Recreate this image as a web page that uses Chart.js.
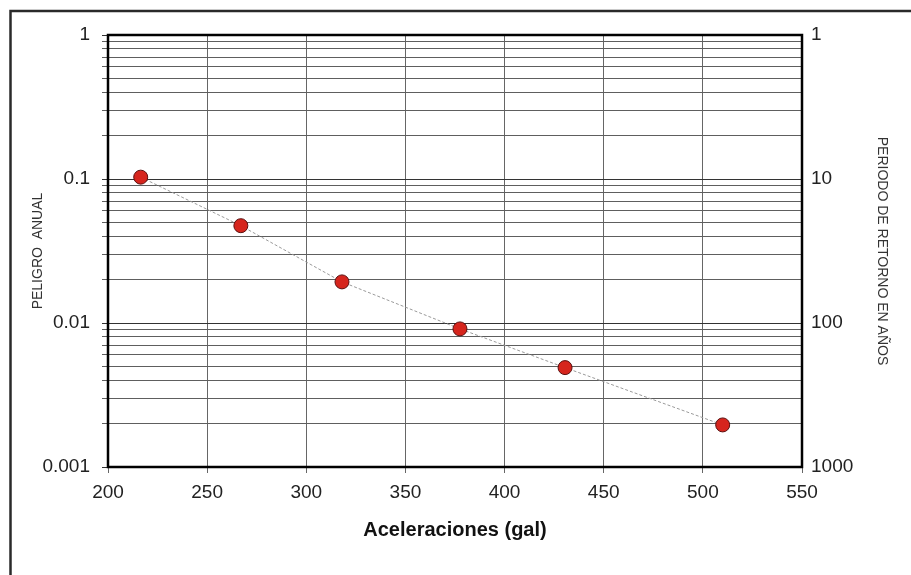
<!DOCTYPE html>
<html>
<head>
<meta charset="utf-8">
<script src="https://cdn.jsdelivr.net/npm/chart.js@4"></script>
<style>
  html, body { margin: 0; padding: 0; background: #fff; }
  #wrap { width: 911px; height: 575px; }
</style>
</head>
<body>
<div id="wrap"><canvas id="myChart" width="911" height="575"></canvas></div>
<script>
// acceleration (gal) vs annual hazard
const aceleraciones = [216.5, 267, 318, 377.5, 430.5, 510];
const peligro = [0.103, 0.0474, 0.0193, 0.0091, 0.0049, 0.00196];

// decades of the log axes and their labels (left: hazard, right: return period)
const decadas = [0.001, 0.01, 0.1, 1];
const peligroLabels = ['0.001', '0.01', '0.1', '1'];
const periodoLabels = ['1000', '100', '10', '1'];

// grid lines at 1..9 of every decade
const lineasY = [];
for (let d = 0; d < decadas.length - 1; d++) {
  for (let m = 1; m <= 9; m++) lineasY.push(+(m * decadas[d]).toPrecision(3));
}
lineasY.push(decadas[decadas.length - 1]);

function indiceDecada(v) {
  return decadas.findIndex(d => Math.abs(v - d) / d < 1e-6);
}

function etiqueta(v, labels) {
  const i = indiceDecada(v);
  return i >= 0 ? labels[i] : '';
}

Chart.defaults.font.family = "'Liberation Sans', Arial, sans-serif";
Chart.defaults.color = '#222';

// outer frame + black box around the plot area
const marcos = {
  id: 'marcos',
  beforeDatasetsDraw(chart) {
    const {ctx, chartArea: a} = chart;
    ctx.save();
    ctx.strokeStyle = '#000';
    ctx.lineWidth = 2.5;
    ctx.strokeRect(a.left, a.top, a.right - a.left, a.bottom - a.top);
    ctx.strokeStyle = '#2a2a2a';
    ctx.strokeRect(10.5, 11, 1000, 1000);
    ctx.restore();
  }
};

const ctx = document.getElementById('myChart');

new Chart(ctx, {
  type: 'scatter',
  data: {
    datasets: [{
      data: aceleraciones.map((x, i) => ({x: x, y: peligro[i]})),
      showLine: true,
      borderColor: '#9a9a9a',
      borderWidth: 1,
      borderDash: [3, 2],
      pointRadius: 7,
      pointBackgroundColor: '#d6251d',
      pointBorderColor: '#5a0f0f',
      pointBorderWidth: 1,
      yAxisID: 'y'
    }]
  },
  options: {
    responsive: false,
    animation: false,
    layout: { padding: { left: 30, right: 21, top: 35, bottom: 33 } },
    plugins: {
      legend: { display: false },
      tooltip: { enabled: false }
    },
    scales: {
      x: {
        type: 'linear',
        min: 200,
        max: 550,
        ticks: { stepSize: 50, padding: 8, maxRotation: 0, font: { size: 19 } },
        grid: { color: '#666', tickLength: 6 },
        border: { display: false },
        afterFit: s => { s.height = 75; },
        title: {
          display: true,
          text: 'Aceleraciones (gal)',
          color: '#111',
          padding: 0,
          font: { size: 20, weight: 'bold' }
        }
      },
      y: {
        type: 'logarithmic',
        position: 'left',
        min: 0.001,
        max: 1,
        afterBuildTicks: s => { s.ticks = lineasY.map(v => ({value: v})); },
        afterFit: s => { s.width = 78; },
        ticks: {
          autoSkip: false,
          padding: 12,
          font: { size: 19 },
          callback: v => etiqueta(v, peligroLabels)
        },
        grid: {
          color: c => (c.tick && indiceDecada(c.tick.value) >= 0) ? '#333' : '#5e5e5e',
          tickLength: 6
        },
        border: { display: false },
        title: {
          display: true,
          text: 'PELIGRO  ANUAL',
          color: '#333',
          padding: 0,
          font: { size: 14 }
        }
      },
      y2: {
        type: 'logarithmic',
        position: 'right',
        min: 0.001,
        max: 1,
        afterBuildTicks: s => { s.ticks = decadas.map(v => ({value: v})); },
        afterFit: s => { s.width = 88; },
        ticks: {
          autoSkip: false,
          padding: 9,
          font: { size: 19 },
          callback: v => etiqueta(v, periodoLabels)
        },
        grid: { display: false, drawTicks: false },
        border: { display: false },
        title: {
          display: true,
          text: 'PERIODO DE RETORNO EN AÑOS',
          color: '#333',
          padding: 0,
          font: { size: 14 }
        }
      }
    }
  },
  plugins: [marcos]
});
</script>
</body>
</html>
